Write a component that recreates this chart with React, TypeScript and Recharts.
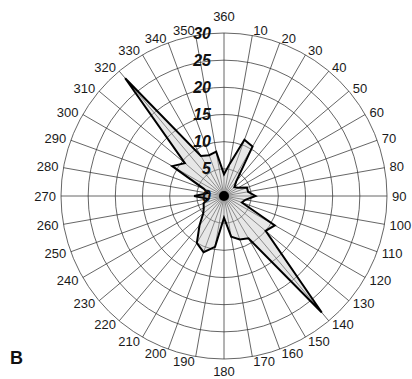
import { RadarChart, Radar, PolarGrid, PolarAngleAxis, PolarRadiusAxis } from "recharts";

// directions in degrees (0 shown as 360) and the radial value at each one
const directions = [
  "360", "10", "20", "30", "40", "50", "60", "70", "80", "90", "100", "110",
  "120", "130", "140", "150", "160", "170", "180", "190", "200", "210", "220", "230",
  "240", "250", "260", "270", "280", "290", "300", "310", "320", "330", "340", "350",
];
const values = [
  4, 6, 11, 10.5, 3.5, 2.5, 3, 4.5, 4.5, 5.8, 4, 3.5,
  10.8, 10, 28, 9, 8.5, 7.6, 4, 9.5, 11, 10, 7, 5,
  4.3, 4, 3, 5.5, 3, 4, 11, 9.4, 28.3, 8.5, 8, 8.3,
];
const radiusTicks = [0, 5, 10, 15, 20, 25, 30];

const data = directions.map((d, i) => ({ dir: d, value: values[i] }));

const CX = 224;
const CY = 196;

const AngleTick = (props: any) => {
  const { x, y, payload } = props;
  const cx = props.cx ?? CX;
  const cy = props.cy ?? CY;
  const dx = x - cx;
  const dy = y - cy;
  const len = Math.hypot(dx, dy) || 1;
  const ux = dx / len;
  const uy = dy / len;
  let anchor: "start" | "end" | "middle" = "middle";
  let r = 168;
  if (ux > 0.05) anchor = "start";
  else if (ux < -0.05) anchor = "end";
  else r = uy > 0 ? 175 : 179.5;
  return (
    <text
      x={cx + ux * r}
      y={cy + uy * r}
      textAnchor={anchor}
      dominantBaseline="central"
      fontSize={13}
      fontFamily="'Liberation Sans', Arial, sans-serif"
      fill="#1a1a1a"
    >
      {payload.value}
    </text>
  );
};

const RadiusTick = (props: any) => {
  const { x, y, payload } = props;
  return (
    <g>
      <text
        x={x - 13}
        y={y}
        textAnchor="end"
        dominantBaseline="central"
        fontSize={16}
        fontWeight="bold"
        fontStyle="italic"
        fontFamily="'Liberation Sans', Arial, sans-serif"
        fill="#111"
      >
        {payload.value}
      </text>
      {payload.value === 0 && <circle cx={x} cy={y} r={5} fill="#000" />}
    </g>
  );
};

export default function App() {
  return (
    <div style={{ position: "absolute", left: 0, top: 0, width: 412, height: 379, background: "#fff" }}>
      <RadarChart
        width={412}
        height={379}
        data={data}
        cx={CX}
        cy={CY}
        outerRadius={163}
        startAngle={90}
        endAngle={-270}
        margin={{ top: 0, right: 0, bottom: 0, left: 0 }}
      >
        <PolarGrid gridType="circle" stroke="#333" strokeWidth={0.75} />
        <PolarAngleAxis dataKey="dir" axisLine={false} tickLine={false} tick={<AngleTick />} />
        <Radar
          dataKey="value"
          stroke="#000"
          strokeWidth={2}
          fill="#c4c4c4"
          fillOpacity={0.4}
          dot={false}
          isAnimationActive={false}
        />
        <PolarRadiusAxis
          angle={90}
          domain={[0, 30]}
          ticks={radiusTicks as any}
          tickCount={7}
          axisLine={false}
          tickLine={false}
          tick={<RadiusTick />}
        />
      </RadarChart>
      <div
        style={{
          position: "absolute",
          left: 10,
          top: 348,
          fontFamily: "'Liberation Sans', Arial, sans-serif",
          fontWeight: "bold",
          fontSize: 18,
          color: "#111",
        }}
      >
        B
      </div>
    </div>
  );
}
